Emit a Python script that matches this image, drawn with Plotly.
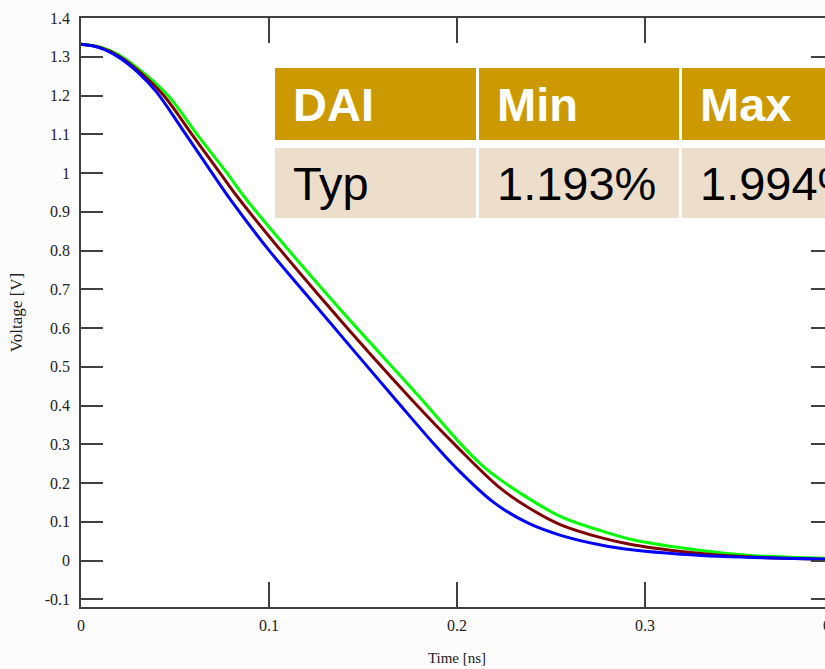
import plotly.graph_objects as go

# Falling-edge waveforms for three process corners (time in ns, voltage in V)
t_fast = [0.0, 0.01, 0.02, 0.03, 0.04, 0.0543, 0.0703, 0.0794, 0.0996, 0.1225,
          0.170, 0.1875, 0.1993, 0.2195, 0.2376, 0.2552, 0.2765, 0.2941, 0.3298, 0.3564, 0.40]
v_fast = [1.332, 1.323, 1.299, 1.261, 1.210, 1.110, 0.996, 0.932, 0.803, 0.671,
          0.400, 0.302, 0.240, 0.150, 0.097, 0.065, 0.040, 0.027, 0.013, 0.008, 0.003]

t_typ = [0.0, 0.01, 0.02, 0.03, 0.044, 0.0591, 0.0741, 0.0847, 0.1289, 0.1763,
         0.2003, 0.2232, 0.2392, 0.2552, 0.2765, 0.2941, 0.3298, 0.3564, 0.40]
v_typ = [1.332, 1.324, 1.302, 1.266, 1.200, 1.099, 0.999, 0.929, 0.671, 0.413,
         0.292, 0.186, 0.133, 0.092, 0.059, 0.040, 0.018, 0.009, 0.003]

t_slow = [0.0, 0.01, 0.02, 0.03, 0.0463, 0.0618, 0.0778, 0.0884, 0.1337, 0.1817,
          0.2019, 0.2126, 0.2232, 0.2323, 0.2552, 0.2765, 0.2941, 0.3298, 0.3564, 0.40]
v_slow = [1.332, 1.325, 1.305, 1.271, 1.200, 1.099, 0.999, 0.929, 0.671, 0.413,
          0.301, 0.249, 0.208, 0.178, 0.113, 0.077, 0.053, 0.026, 0.013, 0.005]

y_tick_vals = [-0.1, 0, 0.1, 0.2, 0.3, 0.4, 0.5, 0.6, 0.7, 0.8, 0.9, 1.0, 1.1, 1.2, 1.3, 1.4]
y_tick_text = ["-0.1", "0", "0.1", "0.2", "0.3", "0.4", "0.5", "0.6", "0.7", "0.8",
               "0.9", "1", "1.1", "1.2", "1.3", "1.4"]
x_tick_vals = [0, 0.1, 0.2, 0.3, 0.4]
x_tick_text = ["0", "0.1", "0.2", "0.3", "0.4"]

table_header = ["DAI", "Min", "Max"]
table_row = ["Typ", "1.193%", "1.994%"]

# figure geometry (pixels)
W, H = 860, 669
L, R, T, B = 81, 833, 18, 607

def px(x):
    return (x - L) / (R - L)

def py(y):
    return (B - y) / (B - T)

fig = go.Figure()
for t, v, color in [(t_slow, v_slow, "#00ff00"), (t_typ, v_typ, "#800000"), (t_fast, v_fast, "#0000ff")]:
    fig.add_trace(go.Scatter(x=t, y=v, mode="lines",
                             line=dict(color=color, width=3, shape="spline", smoothing=1.0),
                             showlegend=False, hoverinfo="skip"))

tick_font = dict(family="Liberation Serif", size=16, color="#222222")
common = dict(showline=True, linecolor="#404040", linewidth=1.5, mirror="ticks",
              ticks="inside", tickcolor="#404040", tickwidth=1.5, automargin=False,
              showgrid=False, zeroline=False, tickfont=tick_font)

fig.update_xaxes(range=[0, 0.4], tickvals=x_tick_vals, ticktext=x_tick_text, ticklen=25,
                 title=dict(text="Time [ns]",
                            font=dict(family="Liberation Serif", size=15, color="#222222"),
                            standoff=20),
                 ticklabelstandoff=3, **common)
fig.update_yaxes(range=[-0.12, 1.4], tickvals=y_tick_vals, ticktext=y_tick_text, ticklen=22,
                 title=dict(text="Voltage [V]",
                            font=dict(family="Liberation Serif", size=17, color="#222222"),
                            standoff=18),
                 ticklabelstandoff=6, **common)

# summary table overlay
shapes = []
annotations = []
col_edges = [(275, 476), (479, 679), (682, 884)]
header_y = (68, 140)
row_y = (148, 218)
for i, (x0, x1) in enumerate(col_edges):
    shapes.append(dict(type="rect", xref="paper", yref="paper",
                       x0=px(x0), x1=px(x1), y0=py(header_y[1]), y1=py(header_y[0]),
                       fillcolor="#cc9900", line=dict(width=0), layer="above"))
    shapes.append(dict(type="rect", xref="paper", yref="paper",
                       x0=px(x0), x1=px(x1), y0=py(row_y[1]), y1=py(row_y[0]),
                       fillcolor="#eddecc", line=dict(width=0), layer="above"))
    annotations.append(dict(text="<b>%s</b>" % table_header[i], xref="paper", yref="paper",
                            x=px(x0 + 16), y=py((header_y[0] + header_y[1]) / 2),
                            xanchor="left", yanchor="middle", showarrow=False,
                            font=dict(family="Liberation Sans", size=47, color="#ffffff")))
    annotations.append(dict(text=table_row[i], xref="paper", yref="paper",
                            x=px(x0 + 16), y=py((row_y[0] + row_y[1]) / 2),
                            xanchor="left", yanchor="middle", showarrow=False,
                            font=dict(family="Liberation Sans", size=47, color="#000000")))

fig.update_layout(width=W, height=H,
                  margin=dict(l=L, r=W - R, t=T, b=H - B, pad=0, autoexpand=False),
                  paper_bgcolor="#fcfcfc", plot_bgcolor="#ffffff",
                  shapes=shapes, annotations=annotations)

fig.write_html("out.html",
               post_script="document.body.style.overflow='hidden';"
                           "document.documentElement.style.overflow='hidden';")
